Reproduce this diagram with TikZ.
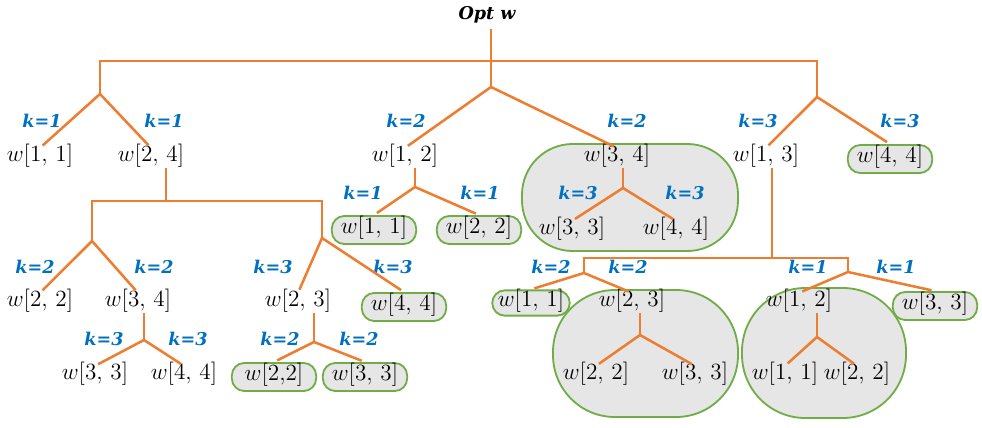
\RequirePackage{fix-cm}
\documentclass[tikz,border=0pt]{standalone}
\usepackage{fontspec}
\usepackage{color}
\usepackage{tikz}

\newfontfamily\labfont{DejaVu Serif}

\definecolor{treeorange}{RGB}{237,125,49}
\definecolor{kblue}{RGB}{0,112,192}
\definecolor{boxgreen}{RGB}{112,173,71}
\definecolor{boxgray}{RGB}{230,230,230}

\begin{document}
\begin{tikzpicture}[
        x=0.025cm,
        y=-0.025cm,
        wnode/.style={
            inner xsep=3pt,
            inner ysep=2pt,
            text height=0.75em,
            text depth=0.25em,
            font=\fontsize{16.5}{19}\selectfont
        },
        wbox/.style={
            wnode,
            draw=boxgreen,
            fill=boxgray,
            line width=1.3pt,
            rounded corners=9pt,
            minimum width=60pt,
            minimum height=20pt
        },
        klab/.style={
            text=kblue,
            font=\labfont\fontsize{12.5}{15}\selectfont\bfseries\itshape
        },
        group/.style={
            draw=boxgreen,
            fill=boxgray,
            line width=1.3pt
        },
        edge/.style={
            draw=treeorange,
            line width=1.8pt
        },
        branch/.style={
            edge,
            shorten <=2.5pt,
            shorten >=2.5pt
        }
    ]
        \useasboundingbox (0,0) rectangle (982,428);

        % Grey groups
        \draw[group, rounded corners=36pt] (522,144) rectangle (738,251);
        \draw[group, rounded corners=44pt] (553,290) rectangle (738,417);
        \draw[group, rounded corners=45pt] (742,288) rectangle (906,418);

        % Root
        \node (opt) at (487,15) [inner ysep=4pt, font=\labfont\fontsize{12.5}{15}\selectfont\bfseries\itshape] {Opt w};
        \coordinate (top) at (491,61);
        \coordinate (fl) at (100,94);
        \coordinate (fm) at (491,87);
        \coordinate (fr) at (817,97);

        % First level
        \node[wnode] (w11a) at (40,158) {$w[1,\,1]$};
        \node[wnode] (w24) at (151,158) {$w[2,\,4]$};
        \node[wnode] (w12) at (405,158) {$w[1,\,2]$};
        \node[wnode] (w34) at (617,158) {$w[3,\,4]$};
        \node[wnode] (w13) at (766,158) {$w[1,\,3]$};
        \node[wbox] (w44a) at (890,159) {$w[4,\,4]$};
        \node[klab] (k1) at (42,121) {k=1};
        \node[klab] (k2) at (164,121) {k=1};
        \node[klab] (k3) at (406,121) {k=2};
        \node[klab] (k4) at (627,121) {k=2};
        \node[klab] (k5) at (758,121) {k=3};
        \node[klab] (k6) at (900,121) {k=3};

        % Under w[1,2]
        \coordinate (f12) at (415,187);
        \node[wbox] (w11b) at (374,230) {$w[1,\,1]$};
        \node[wbox] (w22a) at (479,230) {$w[2,\,2]$};
        \node[klab] (k7) at (363,193) {k=1};
        \node[klab] (k8) at (480,193) {k=1};

        % Under w[3,4]
        \coordinate (f34) at (623,188);
        \node[wnode] (w33a) at (572,231) {$w[3,\,3]$};
        \node[wnode] (w44b) at (676,231) {$w[4,\,4]$};
        \node[klab] (k9) at (578,193) {k=3};
        \node[klab] (k10) at (685,193) {k=3};

        % Under w[2,4]
        \coordinate (b24) at (166,201);
        \coordinate (f24l) at (92,241);
        \coordinate (f24r) at (322,238);
        \node[wnode] (w22b) at (40,303) {$w[2,\,2]$};
        \node[wnode] (w34b) at (138,303) {$w[3,\,4]$};
        \node[wnode] (w23a) at (298,303) {$w[2,\,3]$};
        \node[wbox] (w44d) at (404,307) {$w[4,\,4]$};
        \node[klab] (k11) at (35,267) {k=2};
        \node[klab] (k12) at (154,267) {k=2};
        \node[klab] (k13) at (273,267) {k=3};
        \node[klab] (k14) at (393,267) {k=3};

        \coordinate (f34b) at (144,340);
        \node[wnode] (w33b) at (95,376) {$w[3,\,3]$};
        \node[wnode] (w44c) at (184,376) {$w[4,\,4]$};
        \node[klab] (k15) at (104,339) {k=3};
        \node[klab] (k16) at (188,339) {k=3};

        \coordinate (f23a) at (314,342);
        \node[wbox] (w22c) at (274,377) {$w[2{,}2]$};
        \node[wbox] (w33c) at (365,377) {$w[3,\,3]$};
        \node[klab] (k17) at (280,339) {k=2};
        \node[klab] (k18) at (359,339) {k=2};

        % Under w[1,3]
        \coordinate (b13) at (772,258);
        \coordinate (f13l) at (584,273);
        \coordinate (f13r) at (848,272);
        \node[wbox, minimum width=0pt, inner xsep=4pt, minimum height=18pt] (w11c) at (531,303) {$w[1,\,1]$};
        \node[wnode] (w23b) at (632,303) {$w[2,\,3]$};
        \node[wnode] (w12b) at (799,303) {$w[1,\,2]$};
        \node[wbox] (w33e) at (935,306) {$w[3,\,3]$};
        \node[klab] (k19) at (551,267) {k=2};
        \node[klab] (k20) at (628,267) {k=2};
        \node[klab] (k21) at (808,267) {k=1};
        \node[klab] (k22) at (896,267) {k=1};

        \coordinate (f23b) at (640,335);
        \node[wnode] (w22d) at (596,376) {$w[2,\,2]$};
        \node[wnode] (w33d) at (695,376) {$w[3,\,3]$};

        \coordinate (f12b) at (817,337);
        \node[wnode] (w11d) at (785,376) {$w[1,\,1]$};
        \node[wnode] (w22e) at (857,376) {$w[2,\,2]$};

        % Edges
        \draw[edge] (opt.south -| fm) -- (fm);
        \draw[edge] (fl) -- (fl |- top) -- (fr |- top) -- (fr);
        \draw[branch] (w11a.north) -- (fl) -- (w24.north);
        \draw[branch] (w12.north) -- (fm) -- (w34.north);
        \draw[branch] (w13.north) -- (fr) -- (w44a.north);

        \draw[edge] (w12.south -| f12) -- (f12);
        \draw[branch] (w11b.north) -- (f12) -- (w22a.north);
        \draw[edge] (w34.south -| f34) -- (f34);
        \draw[branch] (w33a.north) -- (f34) -- (w44b.north);

        \draw[edge] (w24.south -| b24) -- (b24);
        \draw[edge] (f24l) -- (f24l |- b24) -- (f24r |- b24) -- (f24r);
        \draw[branch] (w22b.north) -- (f24l) -- (w34b.north);
        \draw[branch] (w23a.north) -- (f24r) -- (w44d.north);
        \draw[edge] (w34b.south -| f34b) -- (f34b);
        \draw[branch] (w33b.north) -- (f34b) -- (w44c.north);
        \draw[edge] (w23a.south -| f23a) -- (f23a);
        \draw[branch] (w22c.north) -- (f23a) -- (w33c.north);

        \draw[edge] (w13.south -| b13) -- (b13);
        \draw[edge] (f13l) -- (f13l |- b13) -- (f13r |- b13) -- (f13r);
        \draw[branch] (w11c.north) -- (f13l) -- (w23b.north);
        \draw[branch] (w12b.north) -- (f13r) -- (w33e.north);
        \draw[edge] (w23b.south -| f23b) -- (f23b);
        \draw[branch] (w22d.north) -- (f23b) -- (w33d.north);
        \draw[edge] (w12b.south -| f12b) -- (f12b);
        \draw[branch] (w11d.north) -- (f12b) -- (w22e.north);
    \end{tikzpicture}
\end{document}
